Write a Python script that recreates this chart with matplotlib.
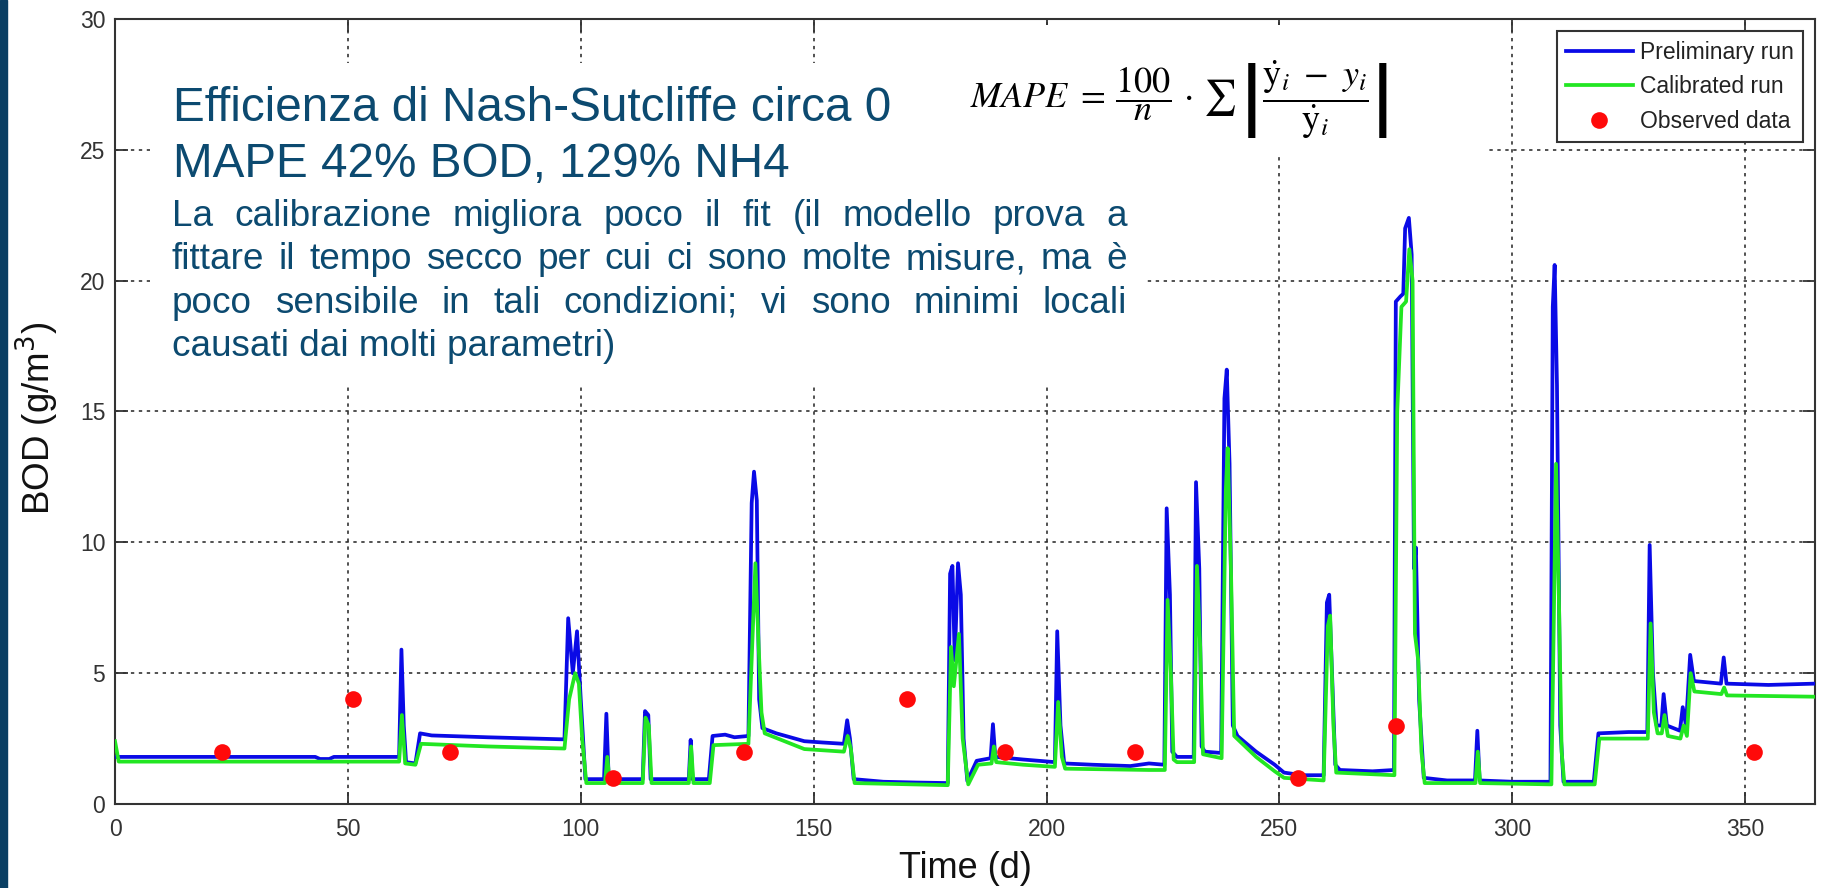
import matplotlib
matplotlib.use("Agg")
import matplotlib.pyplot as plt
from matplotlib import font_manager
from matplotlib.patches import Rectangle

W, H = 1825, 888

# Preliminary run (blue), breakpoints: day, BOD
prelim_t = [0, 43, 44, 46, 47, 61.0, 61.5, 62.0, 62.5, 64.5, 65.5, 68, 80, 90, 96.5,
            97.3, 98.3, 99.2, 100.0, 101.0, 105.0, 105.5, 106.0, 113.3, 113.8, 114.5, 115.0,
            123.2, 123.6, 124.0, 127.5, 128.3, 131, 133, 136.0, 136.7, 137.2, 137.8, 138.3,
            139.0, 142, 148, 152, 156.5, 157.2, 157.8, 158.6, 165, 172, 178.8, 179.3, 179.8,
            180.3, 181.0, 181.6, 182.2, 183.0, 185.0, 188.0, 188.5, 189.0, 195, 201.8, 202.3,
            203.0, 203.8, 210, 218, 222, 225.3, 225.8, 226.5, 227.0, 228, 231.6, 232.1, 232.8,
            233.3, 234, 237.5, 238.2, 238.7, 239.3, 240.0, 241, 245, 249, 251, 255, 259.5,
            260.2, 260.7, 261.3, 262.0, 263, 270, 274.6, 275.0, 276.0, 276.6, 277.0, 277.8,
            278.4, 278.9, 279.3, 280.0, 281.0, 286, 292.0, 292.5, 293.0, 300, 308.2, 308.7,
            309.1, 309.6, 310.3, 311.0, 317.5, 318.5, 325, 329.0, 329.5, 330.2, 331.0, 332.0,
            332.5, 333.2, 336.0, 336.6, 337.3, 338.2, 339.0, 344.8, 345.4, 346.0, 355, 365]
prelim_v = [1.8, 1.8, 1.72, 1.72, 1.8, 1.8, 5.9, 3.0, 1.6, 1.55, 2.7, 2.62, 2.55, 2.5, 2.47,
            7.1, 5.0, 6.6, 4.0, 0.95, 0.95, 3.45, 0.95, 0.95, 3.55, 3.4, 0.95,
            0.95, 2.45, 0.95, 0.95, 2.6, 2.65, 2.55, 2.6, 11.5, 12.7, 11.6, 4.0,
            2.9, 2.7, 2.4, 2.35, 2.3, 3.2, 2.5, 0.95, 0.85, 0.82, 0.8, 8.8, 9.1,
            5.5, 9.2, 8.0, 2.5, 0.88, 1.65, 1.75, 3.05, 1.8, 1.7, 1.6, 6.6,
            3.0, 1.55, 1.5, 1.45, 1.55, 1.5, 11.3, 8.0, 2.0, 1.8, 1.8, 12.3, 9.0,
            2.2, 2.0, 1.95, 15.5, 16.6, 13.0, 3.0, 2.6, 2.0, 1.5, 1.2, 1.1, 1.1,
            7.7, 8.0, 5.0, 1.5, 1.3, 1.25, 1.3, 19.2, 19.4, 19.5, 22.0, 22.4,
            21.0, 9.0, 9.8, 4.0, 1.0, 0.9, 0.9, 2.8, 0.9, 0.85, 0.85, 19.0,
            20.6, 16.0, 3.0, 0.85, 0.85, 2.7, 2.75, 2.75, 9.9, 5.0, 3.0, 3.0,
            4.2, 3.0, 2.8, 3.7, 3.0, 5.7, 4.7, 4.6, 5.6, 4.6, 4.55, 4.6]

# Calibrated run (green)
calib_t = [0, 0.8, 61.0, 61.6, 62.3, 64.5, 65.7, 80, 96.5, 97.5, 98.8, 99.6, 100.3, 101.2,
           105.2, 105.7, 106.2, 113.3, 113.9, 114.6, 115.2, 123.2, 123.7, 124.2, 127.7, 128.5,
           136.0, 136.8, 137.5, 138.2, 138.8, 139.5, 148, 156.5, 157.3, 158.0, 158.8, 178.8,
           179.5, 180.1, 181.2, 182.0, 183.2, 185.3, 188.2, 188.7, 189.2, 195, 201.8, 202.5,
           203.3, 204, 222, 225.4, 226.0, 226.7, 227.3, 228, 231.7, 232.3, 233.0, 233.6,
           237.6, 238.5, 238.9, 239.6, 240.3, 245, 249, 251, 259.5, 260.4, 260.9, 261.6,
           262.2, 274.7, 275.3, 276.2, 277.2, 277.9, 278.6, 279.1, 279.8, 280.5, 281.2,
           292.1, 292.6, 293.1, 308.4, 309.0, 309.4, 310.0, 310.6, 311.2, 317.7, 318.7,
           329.1, 329.7, 330.4, 331.2, 332.1, 332.7, 333.4, 336.1, 336.8, 337.5, 338.3,
           339.1, 344.9, 345.5, 346.1, 365]
calib_v = [2.4, 1.62, 1.62, 3.4, 1.55, 1.5, 2.3, 2.2, 2.12, 4.0, 5.0, 4.6, 2.5, 0.8,
           0.8, 1.8, 0.8, 0.8, 3.3, 3.0, 0.8, 0.8, 2.2, 0.8, 0.8, 2.25,
           2.3, 6.0, 9.2, 6.0, 3.5, 2.7, 2.1, 2.0, 2.6, 2.1, 0.8, 0.72,
           6.0, 4.5, 6.5, 2.5, 0.75, 1.5, 1.55, 2.2, 1.6, 1.5, 1.42, 3.9,
           1.8, 1.35, 1.3, 1.3, 7.8, 5.0, 1.7, 1.6, 1.6, 9.1, 6.0, 1.9,
           1.75, 12.0, 13.6, 9.0, 2.6, 1.8, 1.25, 1.0, 0.9, 6.8, 7.2, 3.0,
           1.2, 1.1, 15.0, 19.0, 19.2, 21.2, 20.0, 6.5, 5.5, 2.0, 0.8,
           0.8, 2.0, 0.8, 0.75, 8.0, 13.0, 8.0, 2.0, 0.75, 0.75, 2.5,
           2.5, 6.9, 3.5, 2.7, 2.7, 3.4, 2.6, 2.5, 3.0, 2.6, 5.0,
           4.3, 4.2, 4.45, 4.15, 4.1]

obs_t = [23, 51, 72, 107, 135, 170, 191, 219, 254, 275, 352]
obs_v = [2, 4, 2, 1, 2, 4, 2, 2, 1, 3, 2]

x_ticks = [0, 50, 100, 150, 200, 250, 300, 350]
y_ticks = [0, 5, 10, 15, 20, 25, 30]

heading = ["Efficienza di Nash-Sutcliffe circa 0", "MAPE 42% BOD, 129% NH4"]
paragraph = ["La calibrazione migliora poco il fit (il modello prova a",
             "fittare il tempo secco per cui ci sono molte misure, ma è",
             "poco sensibile in tali condizioni; vi sono minimi locali",
             "causati dai molti parametri)"]
formula = (r"$MAPE\ =\,\dfrac{100}{n}\,\cdot\,\sum\,\left|"
           r"\dfrac{\dot{\mathrm{y}}_i\ -\ y_i}{\dot{\mathrm{y}}_i}\right|$")

TXT = "#0c4a70"
GRAY = "#333333"

plt.rcParams["font.family"] = ["Liberation Sans", "DejaVu Sans"]

# the chart uses a narrow face; fall back to smaller regular text if it is missing
installed = {f.name for f in font_manager.fontManager.ttflist}
if "Liberation Sans Narrow" in installed:
    small_font, tick_size, leg_size = "Liberation Sans Narrow", 19, 19.5
else:
    small_font, tick_size, leg_size = "Liberation Sans", 16.5, 16.5

fig = plt.figure(figsize=(W / 100, H / 100), dpi=100)
ax = fig.add_axes([115 / W, 1 - 804 / H, 1700 / W, 785 / H])
ax.set_axisbelow(True)


def fx(x):
    return x / W


def fy(y):
    return 1 - y / H


def ax_px(x, y):
    return (x - 115) / 1700, (804 - y) / 785


# dark slide edge on the left
fig.patches.append(Rectangle((0, 0), 7 / W, 1, transform=fig.transFigure,
                             color="#0a3f63", zorder=0))

ax.plot(prelim_t, prelim_v, color="#0a0ae6", lw=2.7, label="Preliminary run", zorder=3)
ax.plot(calib_t, calib_v, color="#22e622", lw=2.7, label="Calibrated run", zorder=3)
ax.plot(obs_t, obs_v, "o", color="#ff0a0a", ms=12, mec="none", label="Observed data", zorder=4)

ax.set_xticks(x_ticks)
ax.set_yticks(y_ticks)
ax.grid(True, color="#222222", linestyle=(0, (2.2, 3.0)), lw=1.1)
ax.tick_params(direction="in", length=9, width=1.3, top=True, right=True,
               color=GRAY, labelcolor=GRAY, labelsize=tick_size)
ax.tick_params(axis="x", pad=10)
ax.tick_params(axis="y", pad=7)
for lab in ax.get_xticklabels() + ax.get_yticklabels():
    lab.set_family(small_font)
for s in ax.spines.values():
    s.set_color(GRAY)
    s.set_linewidth(1.5)

ax.set_xlabel("Time (d)", fontsize=26, color="#111111", va="baseline")
ax.xaxis.set_label_coords(0.5, (804 - 878) / 785)
ax.set_ylabel("BOD (g/m$^3$)", fontsize=26.5, color="#111111", va="center")
ax.yaxis.set_label_coords((37 - 115) / 1700, (804 - 418) / 785)

# white boxes behind the slide text (they hide the grid)
for x0, y0, x1, y1 in [(150, 63, 1146, 383), (950, 25, 1489, 157)]:
    bx, by = ax_px(x0, y1)
    ax.add_patch(Rectangle((bx, by), (x1 - x0) / 1700, (y1 - y0) / 785,
                           transform=ax.transAxes, facecolor="white",
                           edgecolor="none", zorder=1))
ax.set_xlim(0, 365)
ax.set_ylim(0, 30)

leg = ax.legend(loc="upper right", bbox_to_anchor=(1803 / W, 1 - 31 / H),
                bbox_transform=fig.transFigure, borderaxespad=0, fancybox=False,
                framealpha=1, edgecolor=GRAY,
                prop={"family": small_font, "size": leg_size},
                handlelength=2.9, handletextpad=0.3, labelspacing=0.5, borderpad=0.42)
leg.get_frame().set_linewidth(1.5)
for t in leg.get_texts():
    t.set_color("#222222")

# slide text
for i, line in enumerate(heading):
    fig.text(fx(173), fy(121 + 56 * i), line, fontsize=34.3, color=TXT, va="baseline")

renderer = fig.canvas.get_renderer()
left, right = 172, 1127
for i, line in enumerate(paragraph):
    yb = fy(226 + 43.3 * i)
    if i == len(paragraph) - 1:
        fig.text(fx(left), yb, line, fontsize=26.6, color=TXT, va="baseline")
        continue
    words = line.split()
    arts = [fig.text(0, yb, w, fontsize=26.6, color=TXT, va="baseline") for w in words]
    widths = [a.get_window_extent(renderer).width for a in arts]
    gap = (right - left - sum(widths)) / (len(words) - 1)
    x = left
    for a, wd in zip(arts, widths):
        a.set_x(fx(x))
        x += wd + gap

fig.text(fx(970), fy(108), formula, fontsize=26, math_fontfamily="stix",
         color="black", va="baseline")

fig.savefig("out.png", dpi=100, facecolor="white")
